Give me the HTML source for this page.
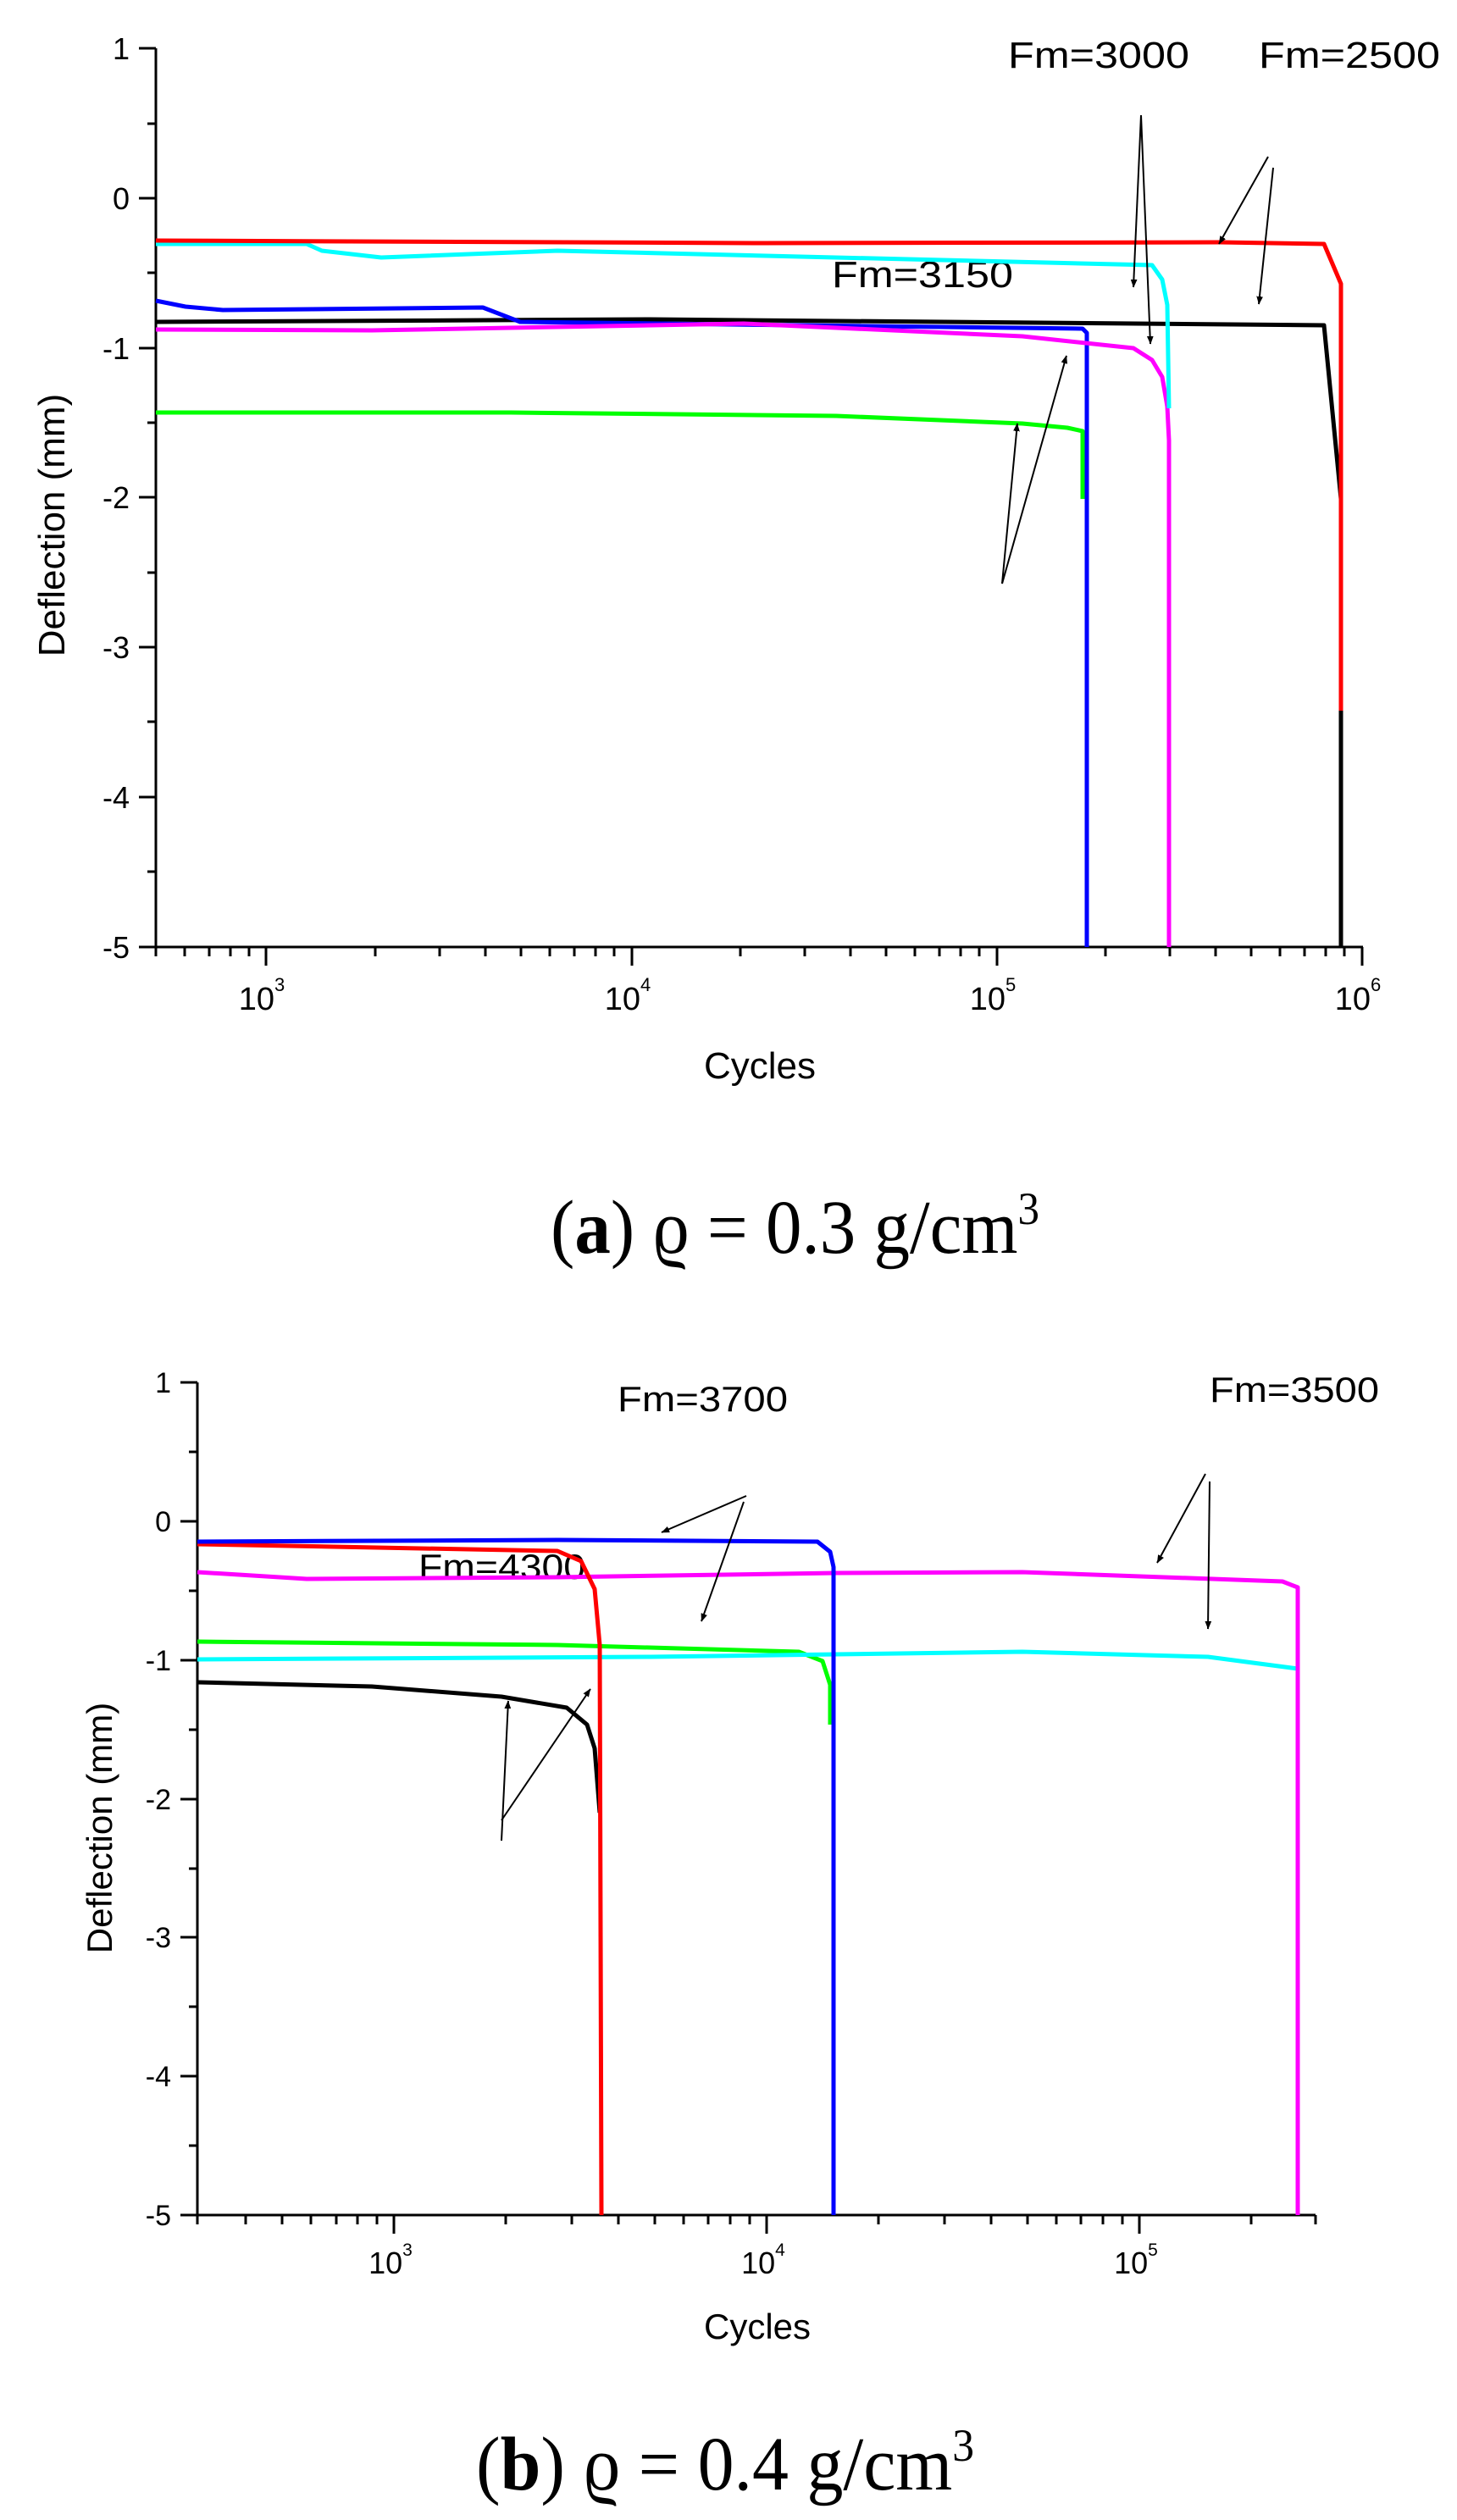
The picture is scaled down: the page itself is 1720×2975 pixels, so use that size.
<!DOCTYPE html>
<html><head><meta charset="utf-8"><style>
html,body{margin:0;padding:0;background:#fff}
svg{display:block}
text{font-family:"Liberation Sans",Arial,sans-serif;fill:#000}
.cap{font-family:"Liberation Serif","Times New Roman",serif}
</style></head><body>
<svg width="1720" height="2975" viewBox="0 0 1720 2975" xmlns="http://www.w3.org/2000/svg">
<defs>
<marker id="ah" markerWidth="10" markerHeight="10" refX="9" refY="5" orient="auto" markerUnits="userSpaceOnUse">
<path d="M0,1 L10,5 L0,9 z" fill="#000" transform="scale(1.6) translate(-4,-2)"/>
</marker>
</defs>
<rect width="1720" height="2975" fill="#fff"/>

<!-- ===== Chart A ===== -->
<g stroke="#000" stroke-width="3" fill="none">
<path d="M184,57 V1118 H1609"/>
<!-- y ticks -->
<path d="M164,57H184M174,146H184M164,234H184M174,322H184M164,411H184M174,499H184M164,587H184M174,676H184M164,764H184M174,852H184M164,941H184M174,1029H184M164,1118H184"/>
<!-- x ticks -->
<path d="M184,1118V1129M218,1118V1129M247,1118V1129M272,1118V1129M294,1118V1129M314,1118V1140M443,1118V1129M519,1118V1129M573,1118V1129M615,1118V1129M649,1118V1129M678,1118V1129M703,1118V1129M725,1118V1129M746,1118V1140M874,1118V1129M950,1118V1129M1004,1118V1129M1046,1118V1129M1080,1118V1129M1109,1118V1129M1134,1118V1129M1156,1118V1129M1177,1118V1140M1305,1118V1129M1381,1118V1129M1435,1118V1129M1477,1118V1129M1511,1118V1129M1540,1118V1129M1565,1118V1129M1587,1118V1129M1608,1118V1140"/>
</g>
<g font-size="36" text-anchor="end">
<text x="153" y="70">1</text><text x="153" y="247">0</text><text x="153" y="424">-1</text>
<text x="153" y="600">-2</text><text x="153" y="777">-3</text><text x="153" y="954">-4</text><text x="153" y="1131">-5</text>
</g>
<g font-size="38" text-anchor="middle">
<text x="309" y="1192">10<tspan font-size="22" dy="-22">3</tspan></text>
<text x="741" y="1192">10<tspan font-size="22" dy="-22">4</tspan></text>
<text x="1172" y="1192">10<tspan font-size="22" dy="-22">5</tspan></text>
<text x="1603" y="1192">10<tspan font-size="22" dy="-22">6</tspan></text>
</g>
<text x="897" y="1273" font-size="44" text-anchor="middle">Cycles</text>
<text transform="translate(76,620) rotate(-90)" font-size="44" text-anchor="middle">Deflection (mm)</text>
<text x="1190" y="80" font-size="44" textLength="214" lengthAdjust="spacingAndGlyphs">Fm=3000</text>
<text x="1486" y="80" font-size="44" textLength="214" lengthAdjust="spacingAndGlyphs">Fm=2500</text>
<text x="982" y="339" font-size="44" textLength="214" lengthAdjust="spacingAndGlyphs">Fm=3150</text>

<g fill="none" stroke-width="5" stroke-linejoin="round">
<path stroke="#00ff00" d="M184,487 L603,487 L987,491 L1207,500 L1260,505 L1278,509 L1278,589"/>
<path stroke="#000" d="M184,380 L768,377 L1563,384 L1583,589 L1583,1118"/>
<path stroke="#0000ff" d="M184,355 L219,362 L263,366 L570,363 L614,380 L1278,388 L1283,393 L1283,1118"/>
<path stroke="#ff00ff" d="M184,389 L439,390 L878,382 L1207,397 L1338,411 L1360,425 L1372,445 L1378,480 L1380,520 L1380,1118"/>
<path stroke="#00ffff" d="M184,288 L362,288 L380,296 L450,304 L658,296 L1360,313 L1372,330 L1378,360 L1380,482"/>
<path stroke="#ff0000" d="M184,284 L900,287 L1440,286 L1563,288 L1583,335 L1583,839"/>
</g>
<g stroke="#000" stroke-width="2" marker-end="url(#ah)">
<line x1="1347" y1="136" x2="1338" y2="339"/>
<line x1="1347" y1="136" x2="1358" y2="406"/>
<line x1="1497" y1="185" x2="1439" y2="288"/>
<line x1="1503" y1="198" x2="1486" y2="359"/>
<line x1="1183" y1="689" x2="1201" y2="500"/>
<line x1="1183" y1="689" x2="1259" y2="420"/>
</g>
<text class="cap" x="650" y="1479" font-size="90" textLength="577" lengthAdjust="spacingAndGlyphs">(<tspan font-weight="bold">a</tspan>) ϱ = 0.3 g/cm<tspan font-size="54" dy="-34">3</tspan></text>

<!-- ===== Chart B ===== -->
<g stroke="#000" stroke-width="3" fill="none">
<path d="M233,1632 V2615 H1553"/>
<path d="M213,1632H233M223,1714H233M213,1796H233M223,1878H233M213,1960H233M223,2042H233M213,2124H233M223,2206H233M213,2287H233M223,2369H233M213,2451H233M223,2533H233M213,2615H233"/>
<path d="M233,2615V2626M290,2615V2626M333,2615V2626M367,2615V2626M397,2615V2626M422,2615V2626M445,2615V2626M465,2615V2637M597,2615V2626M675,2615V2626M730,2615V2626M773,2615V2626M807,2615V2626M836,2615V2626M862,2615V2626M885,2615V2626M905,2615V2637M1037,2615V2626M1115,2615V2626M1170,2615V2626M1213,2615V2626M1247,2615V2626M1276,2615V2626M1302,2615V2626M1325,2615V2626M1345,2615V2637M1477,2615V2626M1553,2615V2626"/>
</g>
<g font-size="34" text-anchor="end">
<text x="202" y="1644">1</text><text x="202" y="1808">0</text><text x="202" y="1972">-1</text>
<text x="202" y="2136">-2</text><text x="202" y="2299">-3</text><text x="202" y="2463">-4</text><text x="202" y="2627">-5</text>
</g>
<g font-size="36" text-anchor="middle">
<text x="461" y="2684">10<tspan font-size="21" dy="-21">3</tspan></text>
<text x="901" y="2684">10<tspan font-size="21" dy="-21">4</tspan></text>
<text x="1341" y="2684">10<tspan font-size="21" dy="-21">5</tspan></text>
</g>
<text x="894" y="2761" font-size="42" text-anchor="middle">Cycles</text>
<text transform="translate(132,2158) rotate(-90)" font-size="42" text-anchor="middle">Deflection (mm)</text>
<text x="729" y="1666" font-size="42" textLength="201" lengthAdjust="spacingAndGlyphs">Fm=3700</text>
<text x="1428" y="1655" font-size="42" textLength="200" lengthAdjust="spacingAndGlyphs">Fm=3500</text>
<text x="494" y="1864" font-size="42" textLength="197" lengthAdjust="spacingAndGlyphs">Fm=4300</text>

<g fill="none" stroke-width="5" stroke-linejoin="round">
<path stroke="#000" d="M233,1986 L439,1991 L592,2003 L669,2016 L693,2036 L702,2064 L708,2140"/>
<path stroke="#00ff00" d="M233,1938 L658,1942 L943,1950 L971,1961 L980,1989 L980,2036"/>
<path stroke="#00ffff" d="M233,1959 L768,1956 L987,1953 L1207,1950 L1426,1956 L1532,1970"/>
<path stroke="#ff00ff" d="M233,1856 L362,1864 L658,1862 L987,1857 L1207,1856 L1514,1867 L1532,1874 L1532,2615"/>
<path stroke="#ff0000" d="M233,1823 L658,1831 L686,1843 L702,1876 L708,1942 L710,2615"/>
<path stroke="#0000ff" d="M233,1820 L658,1818 L965,1820 L980,1832 L984,1850 L984,2615"/>
</g>
<g stroke="#000" stroke-width="2" marker-end="url(#ah)">
<line x1="881" y1="1766" x2="781" y2="1809"/>
<line x1="878" y1="1773" x2="828" y2="1914"/>
<line x1="1423" y1="1740" x2="1366" y2="1845"/>
<line x1="1428" y1="1749" x2="1426" y2="1923"/>
<line x1="592" y1="2173" x2="600" y2="2008"/>
<line x1="592" y1="2149" x2="697" y2="1994"/>
</g>
<text class="cap" x="562" y="2939" font-size="90" textLength="588" lengthAdjust="spacingAndGlyphs">(<tspan font-weight="bold">b</tspan>) ϱ = 0.4 g/cm<tspan font-size="54" dy="-34">3</tspan></text>
</svg>
</body></html>
